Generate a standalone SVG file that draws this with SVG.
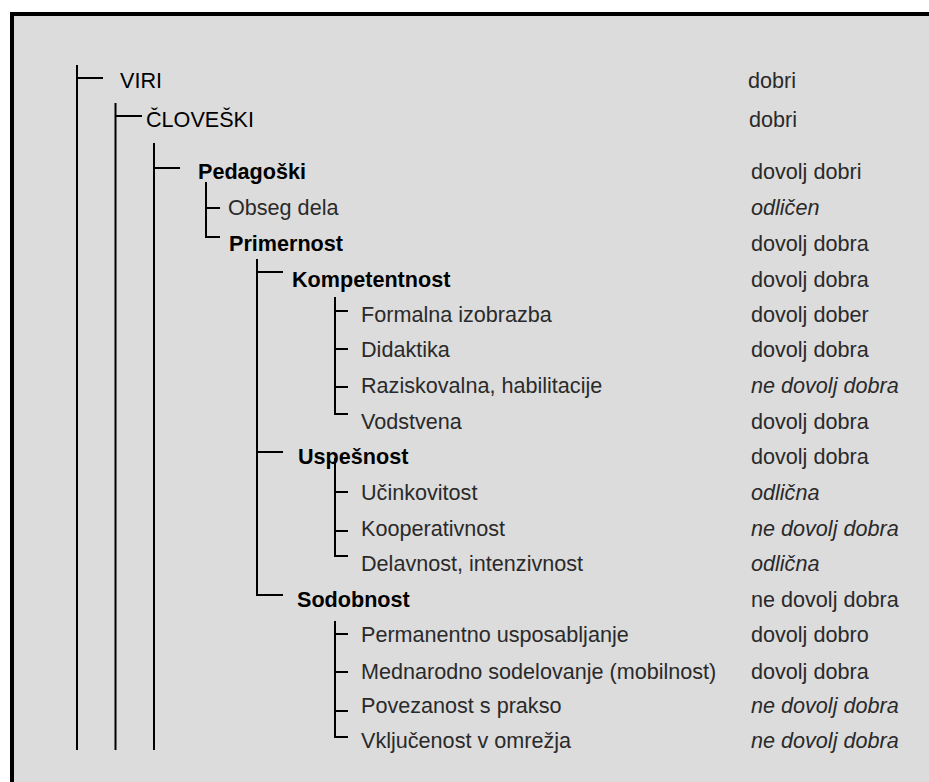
<svg xmlns="http://www.w3.org/2000/svg" width="929" height="782" viewBox="0 0 929 782">
<style>
text{font-family:"Liberation Sans",Arial,sans-serif;font-size:21.6px}
.h{fill:#000}
.hb{fill:#000;font-weight:bold}
.i{fill:#2a2a2a}
.v{fill:#2a2a2a}
.it{font-style:italic}
.c{stroke:#000;stroke-width:2;fill:none}
</style>
<rect x="12" y="14" width="940" height="800" fill="#dcdcdc" stroke="#000" stroke-width="4"/>
<g id="connectors" class="c">
<path d="M77 65V750M77 78H103"/>
<path d="M115.5 103V750M115.5 116H142"/>
<path d="M154 143V750M154 168H180"/>
<path d="M206 182V237H220M206 208H220"/>
<path d="M257 259V595H283M257 272H283M257 452H283"/>
<path d="M335 297V414H348M335 311H348M335 349H348M335 387H348"/>
<path d="M335 458V556H348M335 492H348M335 531H348"/>
<path d="M335 621V737H348M335 634H348M335 672H348M335 711H348"/>
</g>
<g id="viri"><text class="h" x="120" y="88">VIRI</text><text class="v" x="748" y="88">dobri</text></g>
<g id="cloveski"><text class="h" x="146" y="127">ČLOVEŠKI</text><text class="v" x="749" y="127">dobri</text></g>
<g id="pedagoski"><text class="hb" x="198" y="179">Pedagoški</text><text class="v" x="751" y="179">dovolj dobri</text></g>
<g id="obseg"><text class="i" x="228" y="215">Obseg dela</text><text class="v it" x="751" y="215">odličen</text></g>
<g id="primernost"><text class="hb" x="229" y="251">Primernost</text><text class="v" x="751" y="251">dovolj dobra</text></g>
<g id="kompetentnost"><text class="hb" x="292" y="287">Kompetentnost</text><text class="v" x="751" y="287">dovolj dobra</text></g>
<g id="formalna"><text class="i" x="361" y="322">Formalna izobrazba</text><text class="v" x="751" y="322">dovolj dober</text></g>
<g id="didaktika"><text class="i" x="361" y="357">Didaktika</text><text class="v" x="751" y="357">dovolj dobra</text></g>
<g id="raziskovalna"><text class="i" x="361" y="393">Raziskovalna, habilitacije</text><text class="v it" x="751" y="393">ne dovolj dobra</text></g>
<g id="vodstvena"><text class="i" x="361" y="429">Vodstvena</text><text class="v" x="751" y="429">dovolj dobra</text></g>
<g id="uspesnost"><text class="hb" x="298" y="464">Uspešnost</text><text class="v" x="751" y="464">dovolj dobra</text></g>
<g id="ucinkovitost"><text class="i" x="361" y="500">Učinkovitost</text><text class="v it" x="751" y="500">odlična</text></g>
<g id="kooperativnost"><text class="i" x="361" y="536">Kooperativnost</text><text class="v it" x="751" y="536">ne dovolj dobra</text></g>
<g id="delavnost"><text class="i" x="361" y="571">Delavnost, intenzivnost</text><text class="v it" x="751" y="571">odlična</text></g>
<g id="sodobnost"><text class="hb" x="297" y="607">Sodobnost</text><text class="v" x="751" y="607">ne dovolj dobra</text></g>
<g id="permanentno"><text class="i" x="361" y="642">Permanentno usposabljanje</text><text class="v" x="751" y="642">dovolj dobro</text></g>
<g id="mednarodno"><text class="i" x="361" y="679">Mednarodno sodelovanje (mobilnost)</text><text class="v" x="751" y="679">dovolj dobra</text></g>
<g id="povezanost"><text class="i" x="361" y="713">Povezanost s prakso</text><text class="v it" x="751" y="713">ne dovolj dobra</text></g>
<g id="vkljucenost"><text class="i" x="361" y="748">Vključenost v omrežja</text><text class="v it" x="751" y="748">ne dovolj dobra</text></g>
</svg>
